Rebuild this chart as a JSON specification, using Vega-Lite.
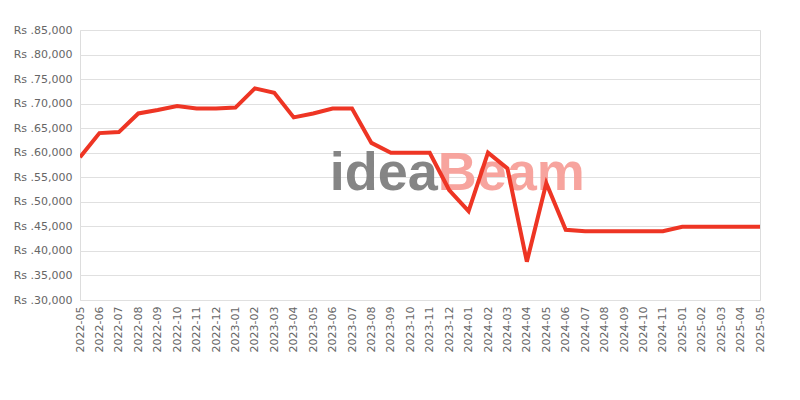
{
  "$schema": "https://vega.github.io/schema/vega-lite/v6.json",
  "autosize": "none",
  "width": 680,
  "height": 270,
  "padding": {"left": 80, "top": 30, "right": 40, "bottom": 100},
  "background": "white",
  "config": {
    "view": {"stroke": "#dddddd", "strokeWidth": 1},
    "font": "DejaVu Sans"
  },
  "datasets": {
    "prices": [
      {"month": "2022-05", "price": 59100},
      {"month": "2022-06", "price": 64000},
      {"month": "2022-07", "price": 64200},
      {"month": "2022-08", "price": 68000},
      {"month": "2022-09", "price": 68700},
      {"month": "2022-10", "price": 69500},
      {"month": "2022-11", "price": 69000},
      {"month": "2022-12", "price": 69000},
      {"month": "2023-01", "price": 69200},
      {"month": "2023-02", "price": 73100},
      {"month": "2023-03", "price": 72200},
      {"month": "2023-04", "price": 67200},
      {"month": "2023-05", "price": 68000},
      {"month": "2023-06", "price": 69000},
      {"month": "2023-07", "price": 69000},
      {"month": "2023-08", "price": 62000},
      {"month": "2023-09", "price": 60000},
      {"month": "2023-10", "price": 60000},
      {"month": "2023-11", "price": 60000},
      {"month": "2023-12", "price": 52400},
      {"month": "2024-01", "price": 48100},
      {"month": "2024-02", "price": 60000},
      {"month": "2024-03", "price": 56800},
      {"month": "2024-04", "price": 37800},
      {"month": "2024-05", "price": 53800},
      {"month": "2024-06", "price": 44300},
      {"month": "2024-07", "price": 44000},
      {"month": "2024-08", "price": 44000},
      {"month": "2024-09", "price": 44000},
      {"month": "2024-10", "price": 44000},
      {"month": "2024-11", "price": 44000},
      {"month": "2025-01", "price": 44900},
      {"month": "2025-02", "price": 44900},
      {"month": "2025-03", "price": 44900},
      {"month": "2025-04", "price": 44900},
      {"month": "2025-05", "price": 44900}
    ],
    "watermark": [
      {"month": "2023-11", "price": 52400, "word": "idea", "part": "left"},
      {"month": "2023-11", "price": 52400, "word": "Beam", "part": "right"}
    ]
  },
  "encoding": {
    "x": {
      "field": "month",
      "type": "ordinal",
      "scale": {
        "type": "point",
        "padding": 0,
        "domain": ["2022-05", "2022-06", "2022-07", "2022-08", "2022-09", "2022-10", "2022-11", "2022-12", "2023-01", "2023-02", "2023-03", "2023-04", "2023-05", "2023-06", "2023-07", "2023-08", "2023-09", "2023-10", "2023-11", "2023-12", "2024-01", "2024-02", "2024-03", "2024-04", "2024-05", "2024-06", "2024-07", "2024-08", "2024-09", "2024-10", "2024-11", "2025-01", "2025-02", "2025-03", "2025-04", "2025-05"]
      },
      "axis": {
        "title": null,
        "labelAngle": -90,
        "labelFontSize": 11,
        "labelColor": "#666666",
        "labelFont": "DejaVu Sans",
        "labelPadding": 6,
        "ticks": false,
        "domain": false,
        "grid": false
      }
    },
    "y": {
      "field": "price",
      "type": "quantitative",
      "scale": {"domain": [30000, 85000], "nice": false, "zero": false},
      "axis": {
        "title": null,
        "values": [30000, 35000, 40000, 45000, 50000, 55000, 60000, 65000, 70000, 75000, 80000, 85000],
        "labelExpr": "'Rs .' + format(datum.value, ',')",
        "labelFontSize": 11,
        "labelColor": "#666666",
        "labelFont": "DejaVu Sans",
        "labelPadding": 8,
        "ticks": false,
        "domain": false,
        "grid": true,
        "gridColor": "#e0e0e0",
        "gridWidth": 1
      }
    }
  },
  "layer": [
    {
      "data": {"name": "watermark"},
      "transform": [{"filter": "datum.part === 'left'"}],
      "mark": {"type": "text", "font": "Liberation Sans", "fontSize": 54, "fontWeight": "bold", "align": "right", "baseline": "alphabetic", "dx": 8, "color": "#7f7f7f", "opacity": 0.95},
      "encoding": {"text": {"field": "word"}}
    },
    {
      "data": {"name": "watermark"},
      "transform": [{"filter": "datum.part === 'right'"}],
      "mark": {"type": "text", "font": "Liberation Sans", "fontSize": 54, "fontWeight": "bold", "align": "left", "baseline": "alphabetic", "dx": 8, "color": "#f7a099", "opacity": 0.95},
      "encoding": {"text": {"field": "word"}}
    },
    {
      "data": {"name": "prices"},
      "mark": {"type": "line", "color": "#ee3524", "strokeWidth": 4, "strokeJoin": "miter", "clip": true}
    }
  ]
}
